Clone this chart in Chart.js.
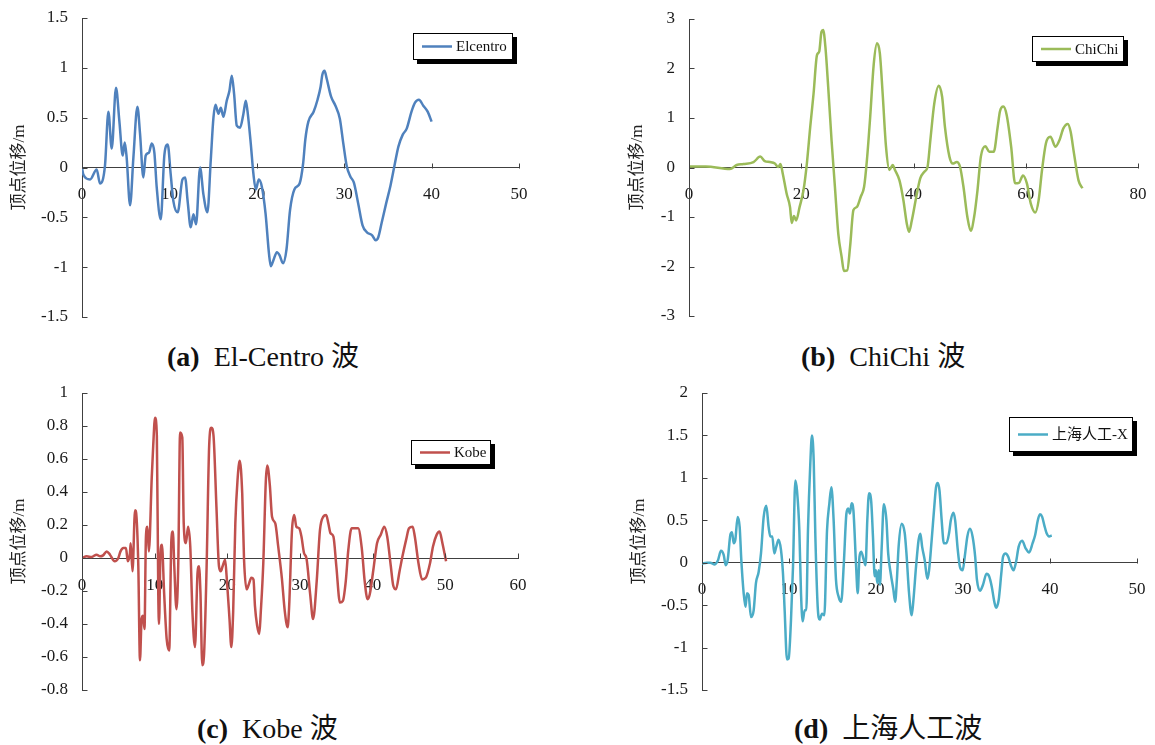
<!DOCTYPE html>
<html>
<head>
<meta charset="utf-8">
<script src="https://cdn.jsdelivr.net/npm/chart.js@4.4.1/dist/chart.umd.min.js"></script>
<style>
  html,body{margin:0;padding:0;background:#fff;}
  body{width:1155px;height:745px;position:relative;overflow:hidden;font-family:"Liberation Serif","Noto Sans CJK SC",serif;}
  canvas{position:absolute;}
  .cap{position:absolute;font-size:28px;line-height:32px;color:#111;white-space:nowrap;}
</style>
</head>
<body>
<canvas id="ca" width="560" height="335" style="left:0;top:0"></canvas>
<canvas id="cb" width="555" height="335" style="left:600px;top:0"></canvas>
<canvas id="cc" width="560" height="335" style="left:0;top:375px"></canvas>
<canvas id="cd" width="555" height="335" style="left:600px;top:375px"></canvas>
<div class="cap" style="left:167px;top:341px"><b>(a)</b>&nbsp; El-Centro 波</div>
<div class="cap" style="left:801px;top:341px"><b>(b)</b>&nbsp; ChiChi 波</div>
<div class="cap" style="left:197px;top:713px"><b>(c)</b>&nbsp; Kobe 波</div>
<div class="cap" style="left:794px;top:713px"><b>(d)</b>&nbsp; 上海人工波</div>
<script>
// ---------- data ----------
const seriesNames = ['Elcentro', 'ChiChi', 'Kobe', '上海人工-X'];
const yTitle = '顶点位移/m';

const timeA = [0,0.15,0.92,1.68,2.06,2.63,3.02,3.4,3.89,4.27,
  4.66,4.89,5.11,5.5,5.88,6.34,6.64,7.02,7.29,7.67,
  7.98,8.28,8.55,9.01,9.43,9.81,10.15,10.46,10.95,11.49,
  11.79,12.1,12.44,12.75,13.05,13.51,13.89,14.35,14.73,15.04,
  15.27,15.61,15.88,16.18,16.56,16.87,17.14,17.4,17.71,18.09,
  18.47,18.74,18.93,19.31,19.62,19.89,20.23,20.57,21.0,21.4,
  21.6,21.9,22.3,22.6,23.0,23.4,23.8,24.3,24.9,25.3,
  25.55,25.9,26.5,26.95,27.3,27.5,27.75,28.0,28.5,29.0,
  29.5,29.9,30.3,30.7,31.1,31.6,32.1,32.6,33.2,33.6,
  33.9,34.3,34.8,35.3,35.8,36.2,36.7,37.15,37.7,38.1,
  38.55,39.05,39.55,40.0];
const dispA = [0,-0.07,-0.12,-0.02,-0.16,0.02,0.56,0.19,0.80,0.47,
  0.12,0.25,0.10,-0.38,0.10,0.61,0.34,-0.10,0.12,0.15,
  0.24,0.15,-0.20,-0.52,0.13,0.23,-0.07,-0.34,-0.45,-0.12,
  -0.10,-0.35,-0.60,-0.47,-0.57,0,-0.27,-0.45,0.07,0.50,
  0.63,0.54,0.60,0.51,0.67,0.77,0.92,0.74,0.42,0.40,
  0.54,0.67,0.57,0.24,-0.07,-0.22,-0.12,-0.19,-0.46,-0.87,
  -0.99,-0.93,-0.85,-0.88,-0.96,-0.82,-0.43,-0.22,-0.16,0.04,
  0.28,0.46,0.56,0.68,0.81,0.93,0.97,0.89,0.71,0.62,
  0.49,0.24,0.01,-0.09,-0.15,-0.36,-0.58,-0.65,-0.68,-0.73,
  -0.70,-0.55,-0.36,-0.18,0.04,0.21,0.33,0.39,0.56,0.65,
  0.68,0.62,0.56,0.46];

const timeB = [0,3,7.3,8.5,9.7,11.5,12.7,13.5,14.4,15.3,
  15.9,16.3,16.7,17.4,18.0,18.3,18.7,19.1,19.7,20.4,
  21.0,21.6,22.2,22.8,23.2,23.6,23.9,24.3,24.8,25.4,
  26.0,26.6,27.2,27.6,28.2,28.7,29.3,29.9,30.6,31.2,
  31.7,32.3,32.9,33.5,34.0,34.5,35.1,35.7,36.3,36.7,
  37.5,38.2,38.8,39.2,39.7,40.5,41.2,41.9,42.5,43.0,
  43.7,44.5,45.1,45.6,46.4,47.0,47.7,48.3,48.9,49.6,
  50.2,50.8,51.4,52.0,52.8,53.5,54.3,55.0,55.4,56.0,
  56.6,57.4,58.1,58.8,59.5,60.2,60.9,61.7,62.3,62.9,
  63.6,64.4,65.3,66.0,66.7,67.5,68.0,68.6,69.4,70.1];
const dispB = [0.02,0.02,-0.03,0.05,0.07,0.11,0.22,0.13,0.11,0.08,
  0.01,0.07,-0.12,-0.53,-0.80,-1.12,-0.98,-1.07,-0.80,-0.46,
  0.08,0.82,1.50,2.27,2.34,2.74,2.78,2.44,1.63,0.55,
  -0.39,-1.34,-1.81,-2.09,-2.08,-1.60,-0.86,-0.80,-0.59,-0.39,
  0.15,1.05,2.07,2.51,2.31,1.50,0.42,-0.05,0.05,-0.05,
  -0.26,-0.66,-1.13,-1.30,-1.07,-0.59,-0.22,-0.09,0.01,0.55,
  1.29,1.65,1.43,0.82,0.22,0.08,0.11,0.01,-0.39,-1.0,
  -1.28,-1.0,-0.46,0.22,0.43,0.32,0.32,0.82,1.13,1.23,
  1.06,0.42,-0.32,-0.31,-0.16,-0.32,-0.73,-0.91,-0.66,-0.05,
  0.49,0.62,0.42,0.55,0.79,0.88,0.72,0.28,-0.26,-0.42];

const timeC = [0,0.64,1.33,2.0,2.5,2.9,3.4,3.85,4.5,5.0,
  5.3,5.7,6.05,6.3,6.6,6.7,6.95,7.3,7.5,7.75,
  7.98,8.2,8.4,8.6,8.8,9.0,9.2,9.6,9.8,10.05,
  10.3,10.5,10.6,10.8,11.0,11.3,11.65,12.0,12.3,12.5,
  12.7,13.0,13.25,13.5,13.8,14.0,14.3,14.6,14.9,15.2,
  15.55,15.9,16.1,16.3,16.55,16.8,17.15,17.5,17.8,18.1,
  18.5,18.85,19.1,19.35,19.7,19.9,20.3,20.55,20.8,21.1,
  21.4,21.7,22.05,22.3,22.65,22.95,23.3,23.6,23.8,24.1,
  24.4,24.6,24.95,25.3,25.5,25.85,26.15,26.6,27.0,27.5,
  27.9,28.3,28.5,28.9,29.2,29.5,29.9,30.2,30.55,30.9,
  31.4,31.8,32.3,32.75,33.2,33.6,33.9,34.2,34.6,35.0,
  35.5,35.9,36.3,36.65,37.1,37.6,38.0,38.5,38.9,39.3,
  39.6,40.1,40.6,41.1,41.6,42.0,42.5,42.8,43.2,43.7,
  44.1,44.6,45.0,45.5,45.8,46.3,46.8,47.3,47.9,48.3,
  48.8,49.2,49.6,50.1];
const dispC = [0,0.01,0.006,0.02,0.01,0.016,0.04,0.02,-0.02,0,
  0.04,0.06,0.06,-0.02,0.03,0.09,-0.08,0.29,0.25,-0.05,
  -0.62,-0.37,-0.35,-0.43,0.13,0.19,0.04,0.49,0.68,0.85,
  0.74,-0.23,-0.40,0.03,0.08,-0.21,-0.49,-0.56,0.11,0.16,
  -0.05,-0.31,-0.03,0.76,0.73,0.21,0.09,0.19,0.07,-0.33,
  -0.54,-0.09,-0.05,-0.21,-0.65,-0.58,-0.05,0.68,0.79,0.74,
  0.31,-0.05,-0.08,-0.05,-0.01,-0.11,-0.37,-0.54,-0.33,0.21,
  0.47,0.59,0.39,-0.01,-0.19,-0.16,-0.12,-0.13,-0.29,-0.41,
  -0.46,-0.33,-0.03,0.47,0.56,0.44,0.25,0.21,0.07,-0.12,
  -0.32,-0.42,-0.30,0.17,0.26,0.19,0.18,0.13,0.03,-0.004,
  -0.22,-0.37,-0.14,0.17,0.25,0.26,0.21,0.15,0.13,-0.05,
  -0.27,-0.26,-0.14,0.05,0.18,0.18,0.18,0.06,-0.14,-0.25,
  -0.22,-0.07,0.09,0.14,0.19,0.13,-0.05,-0.16,-0.19,-0.08,
  0.01,0.11,0.18,0.19,0.13,-0.03,-0.13,-0.12,-0.03,0.07,
  0.14,0.16,0.09,-0.02];

const timeD = [0,0.57,0.96,1.4,1.84,2.18,2.5,2.72,2.95,3.26,
  3.45,3.64,3.83,4.1,4.33,4.52,4.79,5.0,5.17,5.36,
  5.63,5.94,6.2,6.51,6.78,7.09,7.39,7.66,7.85,8.08,
  8.31,8.54,8.8,9.08,9.31,9.5,9.77,9.96,10.23,10.46,
  10.73,10.92,11.19,11.38,11.57,11.8,11.99,12.18,12.45,12.64,
  12.84,13.03,13.3,13.52,13.8,14.06,14.37,14.64,14.87,15.13,
  15.4,15.7,16.0,16.3,16.6,16.8,17.0,17.2,17.4,17.7,
  17.9,18.1,18.3,18.6,18.8,19.0,19.2,19.45,19.65,19.85,
  20.0,20.15,20.3,20.45,20.65,20.9,21.2,21.4,21.7,22.0,
  22.2,22.4,22.6,22.95,23.3,23.5,23.8,24.1,24.3,24.6,
  24.9,25.1,25.3,25.6,25.9,26.1,26.4,26.7,26.9,27.1,
  27.3,27.55,27.8,28.1,28.4,28.6,28.9,29.1,29.4,29.65,
  29.96,30.2,30.5,30.8,31.1,31.4,31.6,31.95,32.3,32.7,
  33.0,33.3,33.6,33.8,34.1,34.4,34.6,34.9,35.2,35.5,
  35.8,36.1,36.4,36.8,37.2,37.6,38.0,38.3,38.6,38.85,
  39.1,39.35,39.6,39.9,40.2];
const dispD = [-0.01,0,0,-0.02,0.03,0.14,0.09,-0.03,0.03,0.33,
  0.36,0.23,0.27,0.54,0.42,0.03,-0.36,-0.52,-0.36,-0.38,
  -0.64,-0.56,-0.24,-0.11,0.11,0.54,0.67,0.42,0.31,0.31,
  0.11,0.19,0.27,0.15,-0.13,-0.56,-1.14,-1.13,-0.67,-0.05,
  0.97,0.85,0.38,-0.36,-0.69,-0.56,-0.56,0.38,1.17,1.50,
  1.20,0.31,-0.52,-0.67,-0.60,-0.62,0.38,0.70,0.89,0.5,
  -0.20,-0.40,-0.46,-0.01,0.58,0.64,0.58,0.70,0.62,-0.01,
  -0.36,0.07,0.13,0.03,-0.03,0.50,0.82,0.72,0.31,-0.16,
  -0.09,-0.24,-0.09,-0.26,0.17,0.69,0.50,0.11,-0.13,-0.32,
  -0.46,-0.20,0.19,0.46,0.35,0.11,-0.36,-0.62,-0.44,-0.05,
  0.27,0.34,0.19,0.03,-0.19,-0.09,0.27,0.66,0.89,0.94,
  0.85,0.50,0.23,0.23,0.35,0.50,0.59,0.50,0.15,-0.05,
  -0.09,0.07,0.31,0.40,0.31,0.07,-0.20,-0.33,-0.26,-0.13,
  -0.16,-0.28,-0.46,-0.53,-0.44,-0.13,0.07,0.11,0.07,-0.03,
  -0.09,0.01,0.19,0.26,0.17,0.12,0.23,0.33,0.50,0.57,
  0.54,0.44,0.35,0.31,0.32];

const xTicksA = [0,10,20,30,40,50];
const xTicksB = [0,20,40,60,80];
const xTicksC = [0,10,20,30,40,50,60];
const xTicksD = [0,10,20,30,40,50];
const yTicksA = [-1.5,-1,-0.5,0,0.5,1,1.5];
const yTicksB = [-3,-2,-1,0,1,2,3];
const yTicksC = [-0.8,-0.6,-0.4,-0.2,0,0.2,0.4,0.6,0.8,1];
const yTicksD = [-1.5,-1,-0.5,0,0.5,1,1.5,2];

// ---------- plugins ----------
const FONT = '"Liberation Serif","Noto Sans CJK SC",serif';
const AXIS_COLOR = '#404040';

const insideTicks = {
  id: 'insideTicks',
  afterDraw(chart) {
    const xs = chart.scales.x, ys = chart.scales.y, ctx = chart.ctx;
    const y0 = Math.round(ys.getPixelForValue(0)) + 0.5;
    const xl = Math.round(xs.getPixelForValue(xs.min)) + 0.5;
    ctx.save();
    ctx.strokeStyle = AXIS_COLOR;
    ctx.lineWidth = 1;
    ctx.beginPath();
    xs.ticks.forEach(t => {
      const px = Math.round(xs.getPixelForValue(t.value)) + 0.5;
      ctx.moveTo(px, y0); ctx.lineTo(px, y0 - 5);
    });
    ys.ticks.forEach(t => {
      const py = Math.round(ys.getPixelForValue(t.value)) + 0.5;
      ctx.moveTo(xl, py); ctx.lineTo(xl + 5, py);
    });
    ctx.stroke();
    ctx.restore();
  }
};

const boxLegend = {
  id: 'boxLegend',
  afterDraw(chart, args, opts) {
    const ds = chart.data.datasets[0];
    const ctx = chart.ctx;
    const {x, y, w, h} = opts;
    ctx.save();
    ctx.fillStyle = '#000';
    ctx.fillRect(x + 4, y + 4, w, h);
    ctx.fillStyle = '#fff';
    ctx.fillRect(x, y, w, h);
    ctx.strokeStyle = '#000';
    ctx.lineWidth = 1;
    ctx.strokeRect(x + 0.5, y + 0.5, w - 1, h - 1);
    ctx.strokeStyle = ds.borderColor;
    ctx.lineWidth = 2.5;
    ctx.beginPath();
    ctx.moveTo(x + 9, y + h / 2);
    ctx.lineTo(x + 39, y + h / 2);
    ctx.stroke();
    ctx.fillStyle = '#111';
    ctx.font = '15px ' + FONT;
    ctx.textBaseline = 'middle';
    ctx.fillText(ds.label, x + 43, y + h / 2 + 1);
    ctx.restore();
  }
};

function makeChart(id, times, disps, label, color, xTicks, yTicks, lay) {
  const pts = times.map((t, i) => ({x: t, y: disps[i]}));
  return new Chart(document.getElementById(id), {
    type: 'line',
    data: { datasets: [{
      label: label, data: pts, borderColor: color, backgroundColor: color,
      borderWidth: 2.5, pointRadius: 0, fill: false, cubicInterpolationMode: 'monotone'
    }]},
    options: {
      responsive: false, animation: false,
      layout: { padding: lay.padding },
      plugins: { legend: {display: false}, tooltip: {enabled: false}, boxLegend: lay.legend },
      scales: {
        x: {
          type: 'linear', min: xTicks[0], max: xTicks[xTicks.length - 1],
          position: {y: 0},
          afterBuildTicks: s => { s.ticks = xTicks.map(v => ({value: v})); },
          afterFit: s => { s.paddingLeft = 0; s.paddingRight = 0; },
          ticks: { callback: v => String(v), font: {family: FONT, size: 17}, color: '#1a1a1a',
                   padding: 17, maxRotation: 0, autoSkip: false },
          grid: { drawOnChartArea: false, drawTicks: false },
          border: { color: AXIS_COLOR, width: 1 }
        },
        y: {
          type: 'linear', min: yTicks[0], max: yTicks[yTicks.length - 1], position: 'left',
          afterBuildTicks: s => { s.ticks = yTicks.map(v => ({value: v})); },
          afterFit: s => { s.width = lay.yWidth; s.paddingTop = 0; s.paddingBottom = 0; },
          ticks: { callback: v => String(v), font: {family: FONT, size: 17}, color: '#1a1a1a',
                   padding: 14, autoSkip: false },
          grid: { drawOnChartArea: false, drawTicks: false },
          border: { color: AXIS_COLOR, width: 1 },
          title: { display: true, text: yTitle, color: '#222',
                   font: {family: FONT, size: 17}, padding: {top: lay.titlePad, bottom: 0} }
        }
      }
    },
    plugins: [insideTicks, boxLegend]
  });
}

makeChart('ca', timeA, dispA, seriesNames[0], '#4F81BD', xTicksA, yTicksA,
  { padding: {top: 18, bottom: 18, left: 0, right: 41}, yWidth: 82, titlePad: 9,
    legend: {x: 413, y: 33, w: 100, h: 27} });
makeChart('cb', timeB, dispB, seriesNames[1], '#9BBB59', xTicksB, yTicksB,
  { padding: {top: 19, bottom: 19, left: 0, right: 17}, yWidth: 89, titlePad: 27,
    legend: {x: 432, y: 36, w: 92, h: 26} });
makeChart('cc', timeC, dispC, seriesNames[2], '#C0504D', xTicksC, yTicksC,
  { padding: {top: 18, bottom: 20, left: 0, right: 42}, yWidth: 82, titlePad: 9,
    legend: {x: 411, y: 65, w: 80, h: 25} });
makeChart('cd', timeD, dispD, seriesNames[3], '#4BACC6', xTicksD, yTicksD,
  { padding: {top: 18, bottom: 20, left: 0, right: 18}, yWidth: 102, titlePad: 29,
    legend: {x: 409, y: 42, w: 124, h: 35} });
</script>
</body>
</html>
